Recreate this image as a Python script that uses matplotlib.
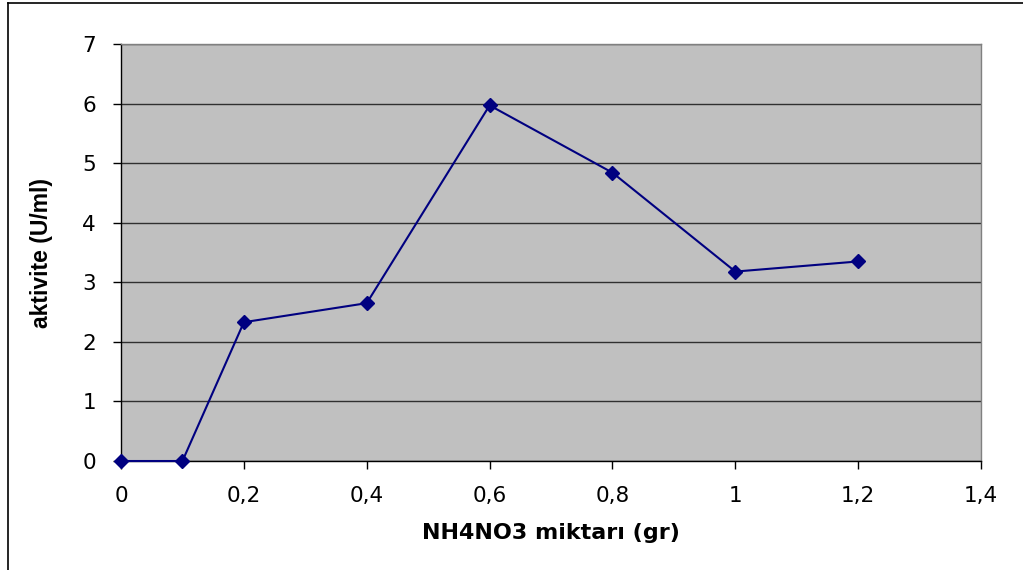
import matplotlib.pyplot as plt
from matplotlib.lines import Line2D
from matplotlib.ticker import FuncFormatter, MultipleLocator

# NH4NO3 amount (gr) vs enzyme activity (U/ml)
miktar = [0, 0.1, 0.2, 0.4, 0.6, 0.8, 1.0, 1.2]
aktivite = [0, 0, 2.33, 2.65, 5.97, 4.84, 3.18, 3.35]

plt.rcParams['font.family'] = ['DejaVu Sans']

fig = plt.figure(figsize=(10.23, 5.70), dpi=100)
ax = fig.add_axes([0.1183, 0.1912, 0.8407, 0.7316])

ax.set_facecolor('#c0c0c0')
ax.plot(miktar, aktivite, color='#000080', lw=1.5, marker='D', ms=7,
        markerfacecolor='#000080', markeredgecolor='#000080', clip_on=False, zorder=3)

ax.set_xlim(0, 1.4)
ax.set_ylim(0, 7)
ax.xaxis.set_major_locator(MultipleLocator(0.2))
ax.yaxis.set_major_locator(MultipleLocator(1))


def virgul(v, pos):
    s = f'{v:.1f}'.rstrip('0').rstrip('.')
    return s.replace('.', ',')


ax.xaxis.set_major_formatter(FuncFormatter(virgul))
ax.yaxis.set_major_formatter(FuncFormatter(lambda v, p: f'{v:.0f}'))

ax.grid(axis='y', color='#303030', lw=1)
ax.set_axisbelow(True)

for s in ['left', 'bottom']:
    ax.spines[s].set_color('black')
    ax.spines[s].set_linewidth(1)
for s in ['top', 'right']:
    ax.spines[s].set_color('#808080')
    ax.spines[s].set_linewidth(1)

ax.tick_params(axis='both', direction='out', length=6, width=1, labelsize=15.5,
               color='black', pad=12)
ax.tick_params(axis='x', pad=12)

ax.set_xlabel('NH4NO3 miktarı (gr)', fontsize=16, fontweight='bold', labelpad=12)
ax.set_ylabel('aktivite (U/ml)', family='Liberation Sans', fontsize=16.5,
              fontweight='bold', labelpad=21)

# chart frame (left and top edges)
fig.add_artist(Line2D([0.0083, 0.0083], [0, 0.995], transform=fig.transFigure,
                      color='black', lw=1.2))
fig.add_artist(Line2D([0.0083, 1.0], [0.995, 0.995], transform=fig.transFigure,
                      color='black', lw=1.2))

fig.savefig('out.png', dpi=100)
